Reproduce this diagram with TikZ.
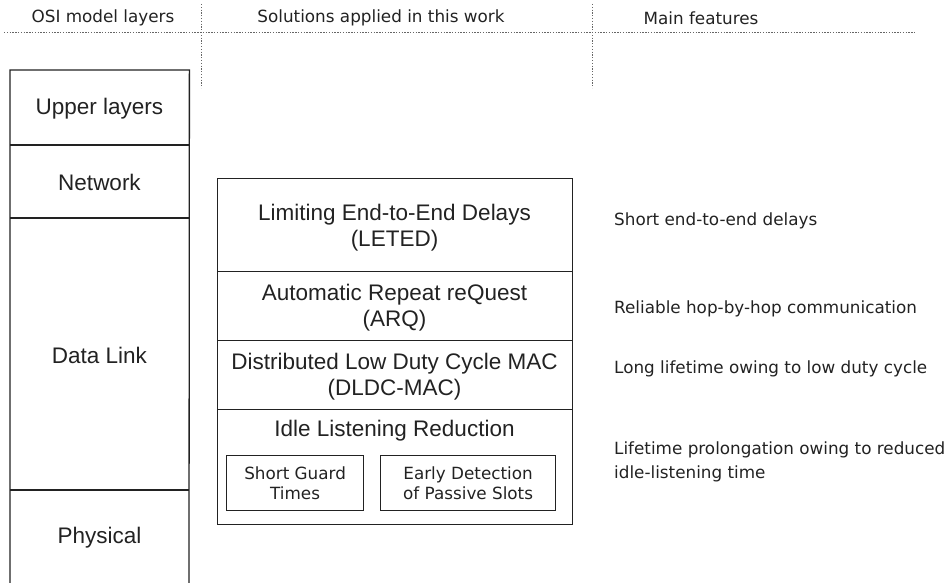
\documentclass[tikz,border=0pt]{standalone}
\usepackage{fontspec}
\setmainfont{Liberation Sans}
\newfontfamily\featfont{DejaVu Sans}
\definecolor{ink}{HTML}{222222}
\definecolor{rule}{HTML}{666666}
\begin{document}
\begin{tikzpicture}[x=1pt,y=-1pt,
  every node/.style={text=ink},
  layer/.style={draw=ink,line width=1.3pt,inner sep=0pt,anchor=north west},
  ltext/.style={inner sep=0pt,font=\fontsize{22.5}{26}\selectfont,align=center},
  sub/.style={draw=ink,line width=1.2pt,inner sep=0pt,anchor=north west,
    font=\featfont\fontsize{16.8}{20}\selectfont,align=center},
  feat/.style={anchor=west,inner sep=0pt,font=\featfont\fontsize{16.8}{24}\selectfont,align=left},
  hdr/.style={inner sep=0pt,font=\featfont\fontsize{16.8}{20}\selectfont},
  sep/.style={draw=rule,line width=0.9pt,dash pattern=on 1.3pt off 1.5pt}]
\useasboundingbox (0,0) rectangle (947,583);

% column headings and separators
\node[hdr] (h1) at (103,18) {OSI model layers};
\node[hdr] (h2) at (381,18) {Solutions applied in this work};
\node[hdr] (h3) at (701,18) {Main features};
\coordinate (hl) at (4,32.5);
\coordinate (hr) at (916,32.5);
\coordinate (v1t) at (201,4);
\coordinate (v1b) at (201,88);
\coordinate (v2t) at (592,4);
\coordinate (v2b) at (592,88);
\draw[sep] (hl) -- (hr);
\draw[sep] (v1t) -- (v1b);
\draw[sep] (v2t) -- (v2b);

% OSI layer stack: outer frame open at the bottom, then the layer dividers
\node[inner sep=0pt,anchor=north west,minimum width=179pt,minimum height=75pt] (upper) at (10,70) {};
\node[inner sep=0pt,anchor=north west,minimum width=179pt,minimum height=73pt] (net) at (10,145) {};
\node[inner sep=0pt,anchor=north west,minimum width=179pt,minimum height=272pt] (dl) at (10,218) {};
\node[inner sep=0pt,anchor=north west,minimum width=179pt,minimum height=93pt] (phy) at (10,490) {};
\coordinate (phyl) at (10,590);
\coordinate (phyr) at (189,590);
\draw[draw=ink,line width=1.3pt] (phyl) -- (upper.north west) -- (upper.north east) -- (phyr);
\draw[draw=ink,line width=1.3pt] (net.north west) -- (net.north east);
\draw[draw=ink,line width=1.3pt] (dl.north west) -- (dl.north east);
\draw[draw=ink,line width=1.3pt] (phy.north west) -- (phy.north east);
\node[ltext] (upper-t) at (99.5,108.5) {Upper layers};
\node[ltext] (net-t) at (99.5,182) {Network};
\node[ltext] (dl-t) at (99.5,355.5) {Data Link};
\node[ltext] (phy-t) at (99.5,537.5) {Physical};

% solutions stack
\node[layer,minimum width=355pt,minimum height=93pt] (leted) at (217,178) {};
\node[layer,minimum width=355pt,minimum height=69pt] (arq) at (217,271) {};
\node[layer,minimum width=355pt,minimum height=69pt] (dldc) at (217,340) {};
\node[layer,minimum width=355pt,minimum height=115pt] (idle) at (217,409) {};
\node[ltext] (leted-t) at (394.5,227.5) {Limiting End-to-End Delays\\(LETED)};
\node[ltext] (arq-t) at (394.5,307.5) {Automatic Repeat reQuest\\(ARQ)};
\node[ltext] (dldc-t) at (394.5,376.5) {Distributed Low Duty Cycle MAC\\(DLDC-MAC)};
\node[ltext] (idle-t) at (394.5,431) {Idle Listening Reduction};
\node[sub,minimum width=137pt,minimum height=55pt] (sgt) at (226,455) {Short Guard\\Times};
\node[sub,minimum width=175pt,minimum height=55pt] (edps) at (380,455) {Early Detection\\of Passive Slots};

% main features
\node[feat] (f1) at (614,221) {Short end-to-end delays};
\node[feat] (f2) at (614,309) {Reliable hop-by-hop communication};
\node[feat] (f3) at (614,369) {Long lifetime owing to low duty cycle};
\node[feat] (f4) at (614,462) {Lifetime prolongation owing to reduced\\idle-listening time};
\end{tikzpicture}
\end{document}
